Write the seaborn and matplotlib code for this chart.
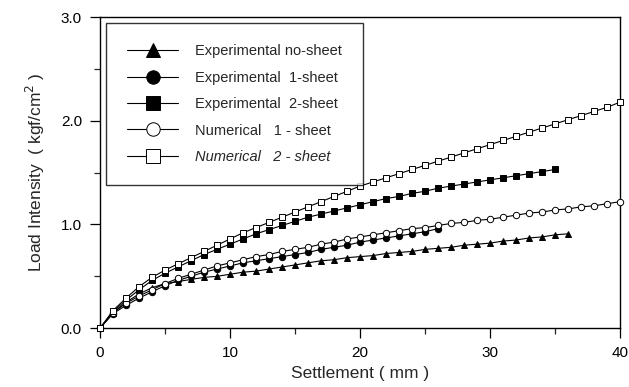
import numpy as np
import pandas as pd
import matplotlib
matplotlib.use("Agg")
import matplotlib.pyplot as plt
from matplotlib.ticker import MultipleLocator, FormatStrFormatter
import seaborn as sns

# Load–settlement records (settlement in mm, load intensity in kgf/cm^2)
exp_no_sheet = [0.00, 0.15, 0.25, 0.33, 0.39, 0.43, 0.45, 0.47, 0.49, 0.50,
                0.52, 0.54, 0.55, 0.57, 0.59, 0.61, 0.63, 0.65, 0.66, 0.68,
                0.69, 0.70, 0.72, 0.73, 0.74, 0.76, 0.77, 0.78, 0.80, 0.81,
                0.82, 0.84, 0.85, 0.87, 0.88, 0.90, 0.91]
exp_1_sheet = [0.00, 0.14, 0.22, 0.29, 0.35, 0.41, 0.46, 0.50, 0.54, 0.57,
               0.60, 0.63, 0.65, 0.67, 0.69, 0.71, 0.73, 0.76, 0.78, 0.80,
               0.83, 0.85, 0.87, 0.89, 0.91, 0.93, 0.96]
exp_2_sheet = [0.00, 0.16, 0.27, 0.37, 0.46, 0.53, 0.59, 0.65, 0.71, 0.76,
               0.81, 0.86, 0.91, 0.95, 0.99, 1.03, 1.07, 1.10, 1.13, 1.16,
               1.19, 1.22, 1.25, 1.27, 1.30, 1.32, 1.35, 1.37, 1.39, 1.41,
               1.43, 1.45, 1.47, 1.49, 1.51, 1.53]
num_1_sheet = [0.00, 0.15, 0.24, 0.31, 0.37, 0.43, 0.48, 0.52, 0.56, 0.60,
               0.63, 0.66, 0.69, 0.71, 0.74, 0.76, 0.78, 0.81, 0.83, 0.86,
               0.88, 0.90, 0.92, 0.94, 0.96, 0.97, 0.99, 1.01, 1.02, 1.04,
               1.05, 1.07, 1.09, 1.11, 1.12, 1.14, 1.15, 1.17, 1.18, 1.20,
               1.22]
num_2_sheet = [0.00, 0.17, 0.29, 0.40, 0.49, 0.56, 0.62, 0.68, 0.74, 0.80,
               0.86, 0.92, 0.97, 1.02, 1.07, 1.12, 1.17, 1.22, 1.27, 1.32,
               1.37, 1.41, 1.45, 1.49, 1.53, 1.57, 1.61, 1.65, 1.69, 1.73,
               1.77, 1.81, 1.85, 1.89, 1.93, 1.97, 2.01, 2.05, 2.09, 2.13,
               2.18]

labels = ["Experimental no-sheet", "Experimental  1-sheet",
          "Experimental  2-sheet", "Numerical   1 - sheet",
          "Numerical   2 - sheet"]
series = [exp_no_sheet, exp_1_sheet, exp_2_sheet, num_1_sheet, num_2_sheet]

x_ticks = [0, 10, 20, 30, 40]
y_ticks = [0.0, 1.0, 2.0, 3.0]

sns.set_theme(style="ticks")
plt.rcParams["font.family"] = ["Liberation Sans", "DejaVu Sans"]

frames = []
for lab, vals in zip(labels, series):
    frames.append(pd.DataFrame({"settlement": np.arange(len(vals)),
                                "load": vals, "case": lab}))
df = pd.concat(frames, ignore_index=True)

styles = {
    labels[0]: dict(marker="^", mfc="black"),
    labels[1]: dict(marker="o", mfc="black"),
    labels[2]: dict(marker="s", mfc="black"),
    labels[3]: dict(marker="o", mfc="white"),
    labels[4]: dict(marker="s", mfc="white"),
}

fig = plt.figure(figsize=(6.29, 3.87), dpi=100)
ax = fig.add_axes([0.159, 0.152, 0.827, 0.804])

for lab in labels:
    st = styles[lab]
    sns.lineplot(data=df[df["case"] == lab], x="settlement", y="load",
                 ax=ax, color="black", linewidth=0.8, marker=st["marker"],
                 markersize=4.6, markerfacecolor=st["mfc"],
                 markeredgecolor="black", markeredgewidth=0.7,
                 label=lab, clip_on=False, zorder=3)

ax.set_xlim(0, 40)
ax.set_ylim(0, 3.0)
ax.set_xticks(x_ticks)
ax.set_yticks(y_ticks)
ax.yaxis.set_major_formatter(FormatStrFormatter("%.1f"))
ax.xaxis.set_minor_locator(MultipleLocator(5))
ax.yaxis.set_minor_locator(MultipleLocator(0.5))
ax.tick_params(which="major", direction="out", length=7, width=0.9,
               labelsize=11, colors="black", pad=6)
ax.tick_params(which="minor", direction="out", length=4, width=0.9)
for sp in ax.spines.values():
    sp.set_visible(True)
    sp.set_linewidth(1.0)
    sp.set_color("black")

ax.set_xlabel("Settlement ( mm )", fontsize=12.5, labelpad=4)
ax.set_ylabel("Load Intensity  ( kgf/cm$^2$ )", fontsize=12.5, labelpad=10)

leg = ax.legend(loc="upper left", bbox_to_anchor=(0.012, 0.98),
                frameon=True, fancybox=False, edgecolor="black",
                fontsize=10.5, markerscale=2.1, handlelength=3.5,
                handletextpad=1.15, labelspacing=0.85, borderpad=1.45,
                borderaxespad=0.0)
leg.get_frame().set_linewidth(1.0)
leg.get_texts()[4].set_style("italic")

fig.savefig("out.png", dpi=100)
